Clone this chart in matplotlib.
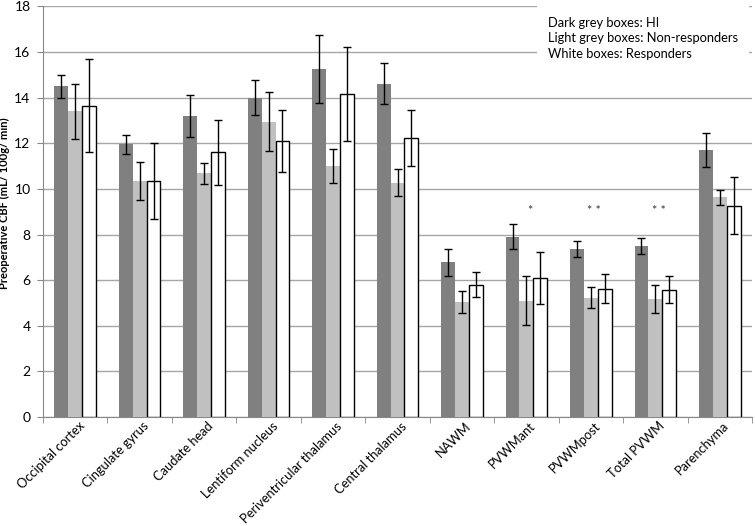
import numpy as np
import matplotlib
matplotlib.use("Agg")
import matplotlib.pyplot as plt
import matplotlib.transforms as mtransforms

plt.rcParams['font.family'] = ['Lato', 'DejaVu Sans']

regions = ["Occipital cortex", "Cingulate gyrus", "Caudate head", "Lentiform nucleus",
           "Periventricular thalamus", "Central thalamus", "NAWM", "PVWMant",
           "PVWMpost", "Total PVWM", "Parenchyma"]

# mean CBF per group
hi_mean = [14.5, 11.95, 13.2, 14.0, 15.25, 14.6, 6.78, 7.91, 7.37, 7.5, 11.7]
nonresp_mean = [13.4, 10.35, 10.68, 12.95, 11.0, 10.26, 5.06, 5.1, 5.22, 5.18, 9.63]
resp_mean = [13.65, 10.35, 11.6, 12.1, 14.15, 12.23, 5.8, 6.1, 5.63, 5.58, 9.27]

# error bar half widths
hi_err = [0.5, 0.4, 0.93, 0.75, 1.48, 0.9, 0.6, 0.55, 0.35, 0.36, 0.73]
nonresp_err = [1.2, 0.85, 0.47, 1.28, 0.73, 0.59, 0.48, 1.08, 0.46, 0.6, 0.32]
resp_err = [2.05, 1.68, 1.43, 1.35, 2.05, 1.23, 0.55, 1.13, 0.63, 0.59, 1.25]

# significance marks above groups
sig_marks = {7: "*", 8: "* *", 9: "* *"}
sig_y = 9.05

legend_lines = ["Dark grey boxes: HI", "Light grey boxes: Non-responders", "White boxes: Responders"]

fig = plt.figure(figsize=(7.55, 5.26), dpi=100)
ax = fig.add_axes([0.057, 0.207, 0.939, 0.781])

x = np.arange(len(regions))
w = 0.215
ekw = dict(ecolor='black', elinewidth=1, capsize=3, capthick=1)
ax.bar(x - w, hi_mean, w, color='#808080', yerr=hi_err, error_kw=ekw, zorder=3)
ax.bar(x, nonresp_mean, w, color='#c0c0c0', yerr=nonresp_err, error_kw=ekw, zorder=3)
ax.bar(x + w, resp_mean, w, color='white', edgecolor='black', linewidth=1,
       yerr=resp_err, error_kw=ekw, zorder=3)

for i, s in sig_marks.items():
    ax.text(i + 0.05, sig_y, s, ha='center', va='center', fontsize=9, color='#333333', zorder=4)

ax.set_xlim(-0.5, len(regions) - 0.5)
ax.set_ylim(0, 18)
ax.set_yticks(np.arange(0, 19, 2))
ax.yaxis.grid(True, color='#a6a6a6', linewidth=1, zorder=0)
ax.set_axisbelow(True)

ax.set_xticks(x)
ax.set_xticklabels(regions, rotation=45, ha='right', rotation_mode='anchor', fontsize=9.3)
ax.tick_params(axis='x', length=0, pad=2)
shift = mtransforms.ScaledTranslation(3 / 100, 0, fig.dpi_scale_trans)
for lbl in ax.get_xticklabels():
    lbl.set_transform(lbl.get_transform() + shift)
ax.set_xticks(np.arange(-0.5, len(regions)), minor=True)
ax.tick_params(axis='x', which='minor', length=4, color='#888888', direction='out')
ax.tick_params(axis='y', length=4, color='#888888', labelsize=10, pad=5)

for sp in ['top', 'right']:
    ax.spines[sp].set_visible(False)
ax.spines['left'].set_color('#888888')
ax.spines['bottom'].set_color('#888888')

ax.set_ylabel("Preoperative CBF (mL/ 100g/ min)", fontsize=8, fontweight='bold')
ax.yaxis.set_label_coords(-0.046, 0.52)

fig.text(0.726, 0.968, "\n".join(legend_lines), ha='left', va='top', fontsize=9.3,
         linespacing=1.35, bbox=dict(facecolor='white', edgecolor='none', pad=8), zorder=5)

fig.savefig("out.png", dpi=100)
